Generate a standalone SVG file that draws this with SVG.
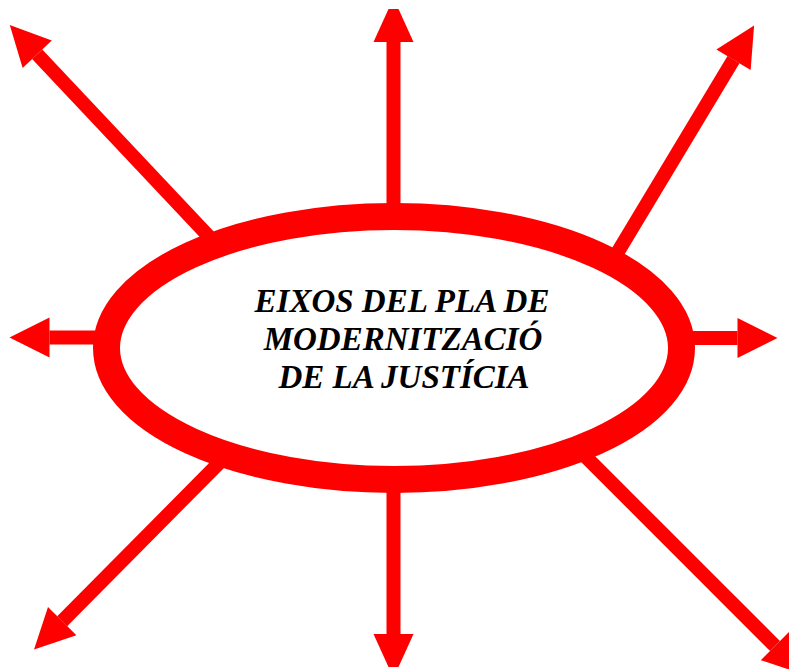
<svg xmlns="http://www.w3.org/2000/svg" width="789" height="669" viewBox="0 0 789 669">
  <style>
    .shaft { stroke: #ff0000; stroke-width: 14; fill: none; }
    .ring { stroke: #ff0000; stroke-width: 27; fill: #ffffff; }
    .label { font-family: "Liberation Serif", "Times New Roman", serif; font-weight: bold; font-style: italic; font-size: 33px; fill: #000000; text-anchor: middle; }
  </style>
  <defs>
    <marker id="head" markerUnits="userSpaceOnUse" viewBox="0 -20 40 40" markerWidth="40" markerHeight="40" refX="0" refY="0" orient="auto" overflow="visible">
      <path d="M0,-20 L40,0 L0,20 Z" fill="#ff0000"/>
    </marker>
    <marker id="headFlat" markerUnits="userSpaceOnUse" viewBox="0 -20 33 40" markerWidth="33" markerHeight="40" refX="0" refY="0" orient="auto" overflow="visible">
      <path d="M0,-20 L33,-5 L33,5 L0,20 Z" fill="#ff0000"/>
    </marker>
  </defs>
  <rect width="789" height="669" fill="#ffffff"/>
  <g id="connectors">
    <line class="shaft" x1="393.5" y1="215" x2="393.5" y2="42" marker-end="url(#headFlat)"/>
    <line class="shaft" x1="393.5" y1="480" x2="393.5" y2="634" marker-end="url(#headFlat)"/>
    <line class="shaft" x1="110" y1="337.5" x2="49.5" y2="337.5" marker-end="url(#head)"/>
    <line class="shaft" x1="680" y1="338" x2="737.5" y2="338" marker-end="url(#head)"/>
    <line class="shaft" x1="215" y1="243" x2="37.2" y2="54.2" marker-end="url(#head)"/>
    <line class="shaft" x1="613" y1="260" x2="733.5" y2="59.7" marker-end="url(#head)"/>
    <line class="shaft" x1="222" y1="460" x2="62.2" y2="621.2" marker-end="url(#head)"/>
    <line class="shaft" x1="582" y1="453" x2="775" y2="646" marker-end="url(#head)"/>
  </g>
  <g id="center-node">
    <ellipse class="ring" cx="394" cy="348" rx="287.5" ry="131.5"/>
    <text class="label" x="402" y="312">EIXOS DEL PLA DE</text>
    <text class="label" x="403" y="350">MODERNITZACIÓ</text>
    <text class="label" x="404" y="388">DE LA JUSTÍCIA</text>
  </g>
</svg>
